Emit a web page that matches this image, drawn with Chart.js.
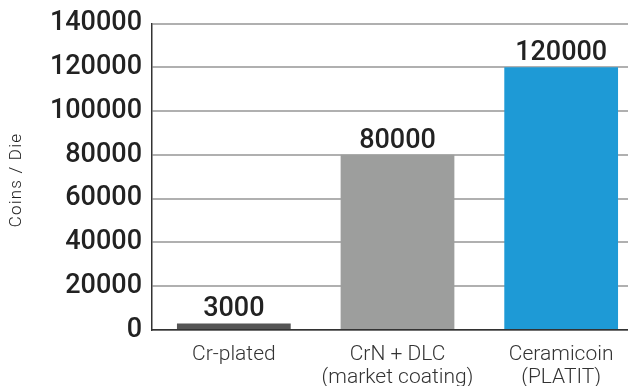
<!DOCTYPE html>
<html><head><meta charset="utf-8">
<script src="https://cdn.jsdelivr.net/npm/chart.js@4/dist/chart.umd.min.js"></script>
<style>html,body{margin:0;padding:0;overflow:hidden;background:#fff}#wrap{width:643px;height:386px;position:relative}</style>
</head><body><div id="wrap"><canvas id="c"></canvas></div>
<script>
const categories = [["Cr-plated"], ["CrN + DLC", "(market coating)"], ["Ceramicoin", "(PLATIT)"]];
const coinsPerDie = [3000, 80000, 120000];
const valueLabels = ["3000", "80000", "120000"];
const yTickLabels = ["0", "20000", "40000", "60000", "80000", "100000", "120000", "140000"];
const barColors = ["#555555", "#9d9e9d", "#1e9ad6"];
const yTitle = "Coins / Die";

const valuePlugin = {
  id: 'valueLabels',
  afterDatasetsDraw(chart) {
    const ctx = chart.ctx;
    const meta = chart.getDatasetMeta(0);
    ctx.save();
    ctx.font = '500 27px Roboto';
    ctx.fillStyle = '#222';
    ctx.textAlign = 'center';
    ctx.textBaseline = 'alphabetic';
    meta.data.forEach((bar, i) => {
      ctx.fillText(valueLabels[i], bar.x, bar.y - 7);
    });
    ctx.restore();
  },
  afterDraw(chart) {
    const ctx = chart.ctx;
    ctx.save();
    ctx.font = '300 17px Roboto';
    ctx.fillStyle = '#222';
    ctx.letterSpacing = '1.2px';
    ctx.textAlign = 'center';
    ctx.textBaseline = 'middle';
    ctx.translate(17, 180);
    ctx.rotate(-Math.PI / 2);
    ctx.fillText(yTitle, 0, 0);
    ctx.restore();
  }
};

new Chart(document.getElementById('c'), {
  type: 'bar',
  data: {
    labels: categories,
    datasets: [{ data: coinsPerDie, backgroundColor: barColors, borderWidth: 0,
      categoryPercentage: 1, barPercentage: 0.695 }]
  },
  options: {
    responsive: true, maintainAspectRatio: false, animation: false,
    layout: { padding: { top: 0, left: 0, right: 0, bottom: 0 } },
    plugins: { legend: { display: false }, tooltip: { enabled: false } },
    scales: {
      x: {
        grid: { display: false },
        border: { color: '#333', width: 1.5 },
        ticks: { color: '#333', font: { family: 'Roboto', size: 21, weight: 300, lineHeight: 1.1 }, padding: 5, maxRotation: 0 },
        afterFit(s) { s.height = 56; }
      },
      y: {
        min: 0, max: 140000,
        ticks: { stepSize: 20000, color: '#222', font: { family: 'Roboto', size: 27, weight: 500, lineHeight: 1.0 }, padding: 10,
          callback: (v, i) => yTickLabels[i] },
        grid: { color: '#b0b0b0', lineWidth: 2, drawTicks: false },
        border: { color: '#333', width: 1.5 },
        title: { display: false },
        afterFit(s) { s.width = 152; }
      }
    }
  },
  plugins: [valuePlugin]
});
</script></body></html>
